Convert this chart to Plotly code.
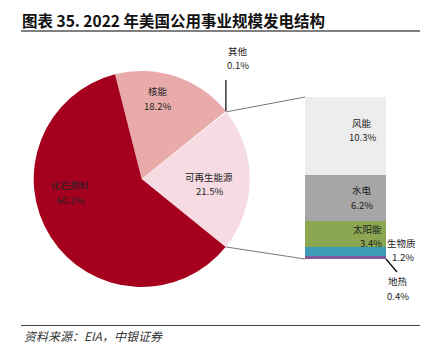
import math
import plotly.graph_objects as go

W, H = 426, 355

main_labels = ['核能', '其他', '可再生能源', '化石燃料']
main_values = [18.2, 0.1, 21.5, 60.2]
main_colors = ['#E9ABAA', '#FFFFFF', '#F6DCE2', '#A6001F']

sub_labels = ['地热', '生物质', '太阳能', '水电', '风能']
sub_values = [0.4, 1.2, 3.4, 6.2, 10.3]
sub_colors = ['#7E5C9E', '#3E9BB5', '#8BA752', '#A6A6A6', '#EDEDED']

title_text = '图表 35. 2022 年美国公用事业规模发电结构'
source_text = '资料来源：EIA，中银证券'

# layout (pixels)
cx, cy, r = 141.7, 179.0, 108.0
rotation = -14.3
bar_x0, bar_x1, bar_y0, bar_y1 = 305, 386, 97, 259

def px(x, y):
    return x / W, 1 - y / H

def pie_point(angle_deg):
    a = math.radians(angle_deg)
    return cx + r * math.sin(a), cy - r * math.cos(a)

CJK = 'Noto Sans CJK SC'
fig = go.Figure()

dx0, dy1 = px(cx - r, cy - r)
dx1, dy0 = px(cx + r, cy + r)
fig.add_trace(go.Pie(
    labels=main_labels, values=main_values, sort=False, direction='clockwise',
    rotation=rotation, marker=dict(colors=main_colors, line=dict(width=0)),
    textinfo='none', hoverinfo='label+percent', showlegend=False,
    domain=dict(x=[dx0, dx1], y=[dy0, dy1])))

for lab, val, col in zip(sub_labels, sub_values, sub_colors):
    fig.add_trace(go.Bar(x=[0], y=[val], name=lab, marker=dict(color=col, line=dict(width=0)),
                         width=1, showlegend=False, hoverinfo='name+y'))

bx0, by1 = px(bar_x0, bar_y0)
bx1, by0 = px(bar_x1, bar_y1)
fig.update_layout(
    barmode='stack', width=W, height=H, autosize=False,
    margin=dict(l=0, r=0, t=0, b=0),
    paper_bgcolor='white', plot_bgcolor='rgba(0,0,0,0)',
    xaxis=dict(domain=[bx0, bx1], range=[-0.5, 0.5], visible=False, fixedrange=True),
    yaxis=dict(domain=[by0, by1], range=[0, sum(sub_values)], visible=False, fixedrange=True),
    font=dict(family=CJK, size=10, color='#222222'),
)

# angles of boundaries
cum = [rotation]
for v in main_values:
    cum.append(cum[-1] + v / sum(main_values) * 360)
ren_start, ren_end = cum[2], cum[3]
other_start = cum[1]

shapes = []
p1 = pie_point(ren_start)
p2 = pie_point(ren_end)
for (ax, ay), (bx, by) in [(p1, (bar_x0, bar_y0)), (p2, (bar_x0, bar_y1))]:
    a = px(ax, ay); b = px(bx, by)
    shapes.append(dict(type='line', xref='paper', yref='paper', x0=a[0], y0=a[1], x1=b[0], y1=b[1],
                       line=dict(color='#555555', width=0.8)))
po = pie_point(other_start)
a = px(po[0], po[1]); b = px(po[0], 80)
shapes.append(dict(type='line', xref='paper', yref='paper', x0=a[0], y0=a[1], x1=b[0], y1=b[1],
                   line=dict(color='#000000', width=1.2)))
a = px(bar_x1, bar_y1); b = px(397, 272)
shapes.append(dict(type='line', xref='paper', yref='paper', x0=a[0], y0=a[1], x1=b[0], y1=b[1],
                   line=dict(color='#000000', width=1.2)))
# title and source rules
for yy, col, wd in ((31, '#808080', 2), (325.5, '#444444', 1.2)):
    a = px(21, yy); b = px(420, yy)
    shapes.append(dict(type='line', xref='paper', yref='paper', x0=a[0], y0=a[1], x1=b[0], y1=b[1],
                       line=dict(color=col, width=wd)))
fig.update_layout(shapes=shapes)

ann = []
def add(text, x, y, size=9.5, color='#222222', xanchor='center'):
    ax, ay = px(x, y)
    ann.append(dict(text=text, x=ax, y=ay, xref='paper', yref='paper', showarrow=False,
                    xanchor=xanchor, yanchor='middle', borderpad=0,
                    font=dict(size=size, color=color, family=CJK)))

def fmt(v):
    return f'{v:.1f}%'

# (x, y of name line, spacing, anchor)
pie_label_pos = {'核能': (157.7, 91, 14.5), '其他': (238, 51, 14.5),
                 '可再生能源': (209, 177, 14.5), '化石燃料': (70, 185, 14.5)}
for lab, val in zip(main_labels, main_values):
    x, y, dy = pie_label_pos[lab]
    add(lab, x, y)
    add(fmt(val), x, y + dy)

bar_label_pos = {'风能': (362, 123, 14.5, 'center'), '水电': (362, 190, 14.5, 'center'),
                 '太阳能': (383, 228.5, 14.5, 'right'), '生物质': (401, 242.5, 14.5, 'center'),
                 '地热': (398, 281, 14.5, 'center')}
for lab, val in zip(sub_labels, sub_values):
    x, y, dy, anc = bar_label_pos[lab]
    add(lab, x, y, xanchor=anc)
    add(fmt(val), x + (2 if lab == '生物质' else 0), y + dy, xanchor=anc)

add('<b>' + title_text + '</b>', 21, 20, size=15.5, color='#111111', xanchor='left')
add('<i>' + source_text + '</i>', 23, 335, size=12, color='#333333', xanchor='left')
fig.update_layout(annotations=ann)

fig.write_html('out.html', config={'displayModeBar': False},
               post_script="document.body.style.margin='0';")
